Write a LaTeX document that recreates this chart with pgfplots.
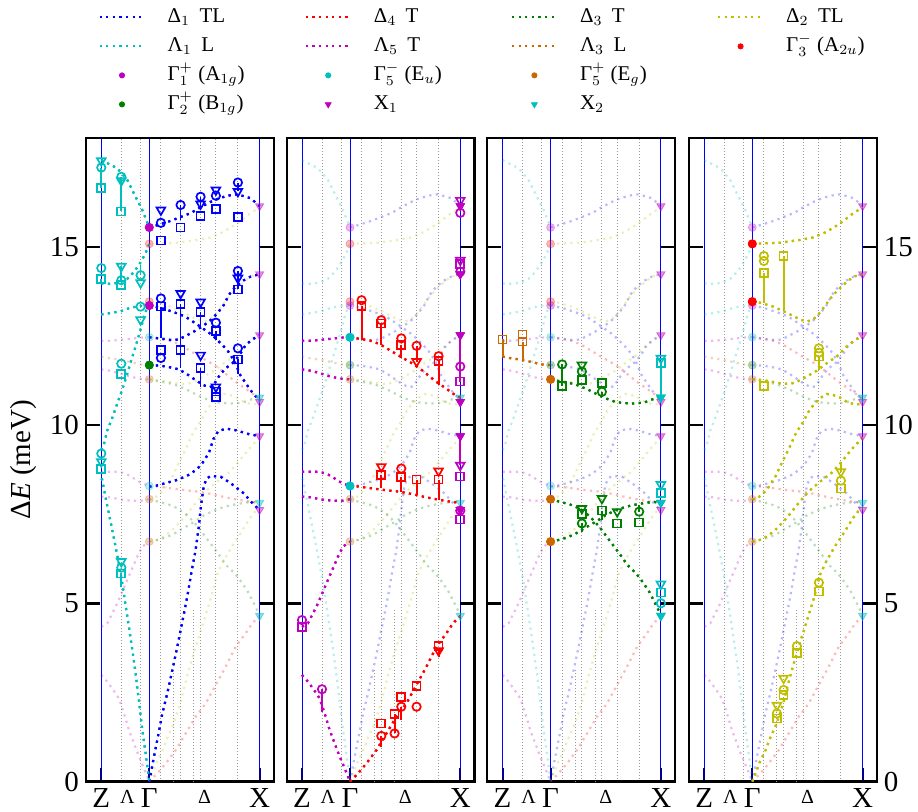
\documentclass[border=0pt]{standalone}
\usepackage{fontspec}
\setmainfont{Liberation Serif}
\usepackage{pgfplots}
\usepackage{pgfplotstable}
\pgfplotsset{compat=1.18}

\definecolor{cB}{rgb}{0,0,1}
\definecolor{cBt}{rgb}{0,0,0.55}
\definecolor{cC}{rgb}{0,0.75,0.75}
\definecolor{cR}{rgb}{1,0,0}
\definecolor{cM}{rgb}{0.75,0,0.75}
\definecolor{cG}{rgb}{0,0.5,0}
\definecolor{cO}{rgb}{0.8,0.4,0}
\definecolor{cY}{rgb}{0.75,0.75,0}

\newcommand\bigf{\fontsize{14.5}{17}\selectfont}
\newcommand\smallf{\fontsize{10}{11}\selectfont}
\newcommand\legf{\fontsize{10.5}{12.5}\selectfont}
\newcommand\lent[1]{\makebox[68.5pt][l]{#1}}

% ---------- Delta_1 (blue) ----------
\pgfplotstableread[row sep=\\]{x y\\ 48 0\\ 52 0.6\\ 56 1.17\\ 61 1.9\\ 66 2.48\\ 71 3.12\\ 76 3.78\\ 81 4.48\\ 86 5.19\\ 90 5.85\\ 94.3 6.49\\ 97.5 7.15\\ 100 7.8\\ 102.5 8.3\\ 105.5 8.5\\ 109.3 8.57\\ 119.3 8.55\\ 129.3 8.37\\ 142.6 8.08\\ 152.6 7.76\\ 158.3 7.62\\}\tBa
\pgfplotstableread[row sep=\\]{x y\\ 48 8.27\\ 55 8.3\\ 63 8.36\\ 76 8.46\\ 89 8.62\\ 97 8.8\\ 103 9.0\\ 108 9.25\\ 112 9.6\\ 117 9.83\\ 125 9.9\\ 135 9.85\\ 148 9.74\\ 158.3 9.69\\}\tBb
\pgfplotstableread[row sep=\\]{x y\\ 48 11.68\\ 60 11.66\\ 72 11.6\\ 77.6 11.56\\ 86 11.42\\ 94.3 11.26\\ 102 11.12\\ 108 11.06\\ 112 11.1\\ 116 11.3\\ 120 11.45\\ 124.3 11.59\\ 131 11.73\\ 138 11.95\\ 144.3 12.24\\ 151 12.4\\ 158.3 12.52\\}\tBc
\pgfplotstableread[row sep=\\]{x y\\ 48 12.46\\ 57.6 12.43\\ 71 12.38\\ 77.6 12.40\\ 86 12.52\\ 92.6 12.62\\ 101 12.76\\ 109.3 12.94\\ 116 13.13\\ 122.6 13.37\\ 127.6 13.65\\ 134.3 13.88\\ 142 14.05\\ 149.3 14.16\\ 158.3 14.23\\}\tBd
\pgfplotstableread[row sep=\\]{x y\\ 48 13.35\\ 60 13.28\\ 72 13.17\\ 84 13.04\\ 99 12.76\\ 111 12.52\\ 119 12.3\\ 126 12.1\\ 133 11.8\\ 139 11.4\\ 145 11.15\\ 150 10.95\\ 158.3 10.68\\}\tBe
\pgfplotstableread[row sep=\\]{x y\\ 48 15.54\\ 56.7 15.61\\ 70 15.73\\ 90 15.95\\ 100 16.12\\ 113 16.31\\ 126 16.43\\ 136 16.47\\ 149.3 16.36\\ 158.3 16.14\\}\tBf
% ---------- Delta_2 (olive) ----------
\pgfplotstableread[row sep=\\]{x y\\ 48 15.08\\ 55.7 15.09\\ 75.7 15.11\\ 95.7 15.19\\ 109 15.26\\ 122.4 15.42\\ 135.7 15.65\\ 149 15.94\\ 158.3 16.1\\}\tYa
\pgfplotstableread[row sep=\\]{x y\\ 48 13.46\\ 55.7 13.43\\ 69 13.32\\ 82.4 13.15\\ 95.7 12.96\\ 102.4 12.9\\ 109 12.96\\ 115.7 13.15\\ 122.4 13.41\\ 129 13.65\\ 139 13.93\\ 149 14.16\\ 158.3 14.23\\}\tYb
\pgfplotstableread[row sep=\\]{x y\\ 48 11.28\\ 52.4 11.28\\ 62.4 11.24\\ 75.7 11.17\\ 85.7 11.15\\ 92.4 11.21\\ 102.4 11.36\\ 112.4 11.52\\ 122.4 11.73\\ 132.4 11.92\\ 142.4 12.2\\ 150.7 12.38\\ 158.3 12.5\\}\tYc
\pgfplotstableread[row sep=\\]{x y\\ 48 7.92\\ 52.4 7.94\\ 58 8.05\\ 63.4 8.22\\ 71.4 8.57\\ 78 8.97\\ 84.7 9.34\\ 90.7 9.72\\ 95 9.92\\ 99 10.09\\ 102.4 10.28\\ 105.7 10.44\\ 110.7 10.61\\ 115.7 10.75\\ 122.4 10.87\\ 129 10.84\\ 137.4 10.75\\ 142.4 10.65\\ 150 10.58\\ 158.3 10.58\\}\tYd
\pgfplotstableread[row sep=\\]{x y\\ 48 6.73\\ 57.4 6.79\\ 64 6.9\\ 70.7 7.05\\ 77.4 7.24\\ 83.4 7.43\\ 94 7.8\\ 104 8.13\\ 115.7 8.41\\ 127.4 8.66\\ 137.4 8.97\\ 147.4 9.32\\ 158.3 9.65\\}\tYe
\pgfplotstableread[row sep=\\]{x y\\ 48 0\\ 50.7 0.19\\ 55.7 0.56\\ 60.7 0.84\\ 65.7 1.21\\ 72.4 1.63\\ 79 2.2\\ 85.7 2.94\\ 92.4 3.6\\ 100.7 4.34\\ 109 5.09\\ 115.7 5.8\\ 122.4 6.2\\ 130.7 6.6\\ 139 6.95\\ 149 7.4\\ 154 7.58\\ 158.3 7.65\\}\tYf
% ---------- Delta_3 (green) ----------
\pgfplotstableread[row sep=\\]{x y\\ 48 11.28\\ 58 11.22\\ 71.7 11.15\\ 85 11.0\\ 100 10.78\\ 113.4 10.64\\ 128.4 10.6\\ 141.7 10.63\\ 150 10.72\\ 158.3 10.77\\}\tGa
\pgfplotstableread[row sep=\\]{x y\\ 48 7.92\\ 56.7 7.85\\ 66.7 7.78\\ 76.7 7.66\\ 86.7 7.45\\ 96.7 7.15\\ 106.7 6.77\\ 116.7 6.4\\ 125 6.07\\ 133.4 5.84\\ 140 5.6\\ 146.7 5.32\\ 153.4 4.95\\ 158.3 4.67\\}\tGb
\pgfplotstableread[row sep=\\]{x y\\ 48 6.73\\ 56.7 6.78\\ 65 6.85\\ 73.4 6.96\\ 83.4 7.13\\ 93.4 7.29\\ 103.4 7.48\\ 113.4 7.61\\ 123.4 7.71\\ 133.4 7.77\\ 143.4 7.82\\ 151.7 7.84\\ 158.3 7.82\\}\tGc
% ---------- Delta_4 (red) ----------
\pgfplotstableread[row sep=\\]{x y\\ 48 12.46\\ 54.4 12.43\\ 67.7 12.37\\ 77.7 12.27\\ 87.7 12.1\\ 97.7 11.93\\ 107.7 11.77\\ 117.7 11.59\\ 126 11.4\\ 134.3 11.21\\ 144.3 11.02\\ 151 10.88\\ 158.3 10.77\\}\tRa
\pgfplotstableread[row sep=\\]{x y\\ 48 8.29\\ 57.7 8.27\\ 71 8.22\\ 84.4 8.17\\ 97.7 8.13\\ 111 8.06\\ 124.4 7.97\\ 137.7 7.9\\ 151 7.84\\ 158.3 7.82\\}\tRb
\pgfplotstableread[row sep=\\]{x y\\ 48 0\\ 56 0.23\\ 64.4 0.51\\ 74.4 0.88\\ 84.4 1.35\\ 94.4 1.82\\ 104.4 2.19\\ 114.4 2.71\\ 124.4 3.22\\ 134.4 3.78\\ 144.4 4.16\\ 151 4.44\\ 158.3 4.65\\}\tRc
% ---------- Lambda_1 (cyan) ----------
\pgfplotstableread[row sep=\\]{x y\\ 0 17.43\\ 7.6 17.32\\ 16 17.2\\ 26 16.87\\ 34.3 16.4\\ 41 16.03\\ 48 15.54\\}\tCa
\pgfplotstableread[row sep=\\]{x y\\ 0 13.97\\ 9 13.96\\ 18 13.99\\ 26 14.1\\ 33 14.3\\ 39 14.55\\ 44 14.8\\ 48 15.08\\}\tCb
\pgfplotstableread[row sep=\\]{x y\\ 0 13.1\\ 9.3 13.14\\ 19.3 13.19\\ 29.3 13.29\\ 39.3 13.34\\ 48 13.35\\}\tCc
\pgfplotstableread[row sep=\\]{x y\\ 0 9.3\\ 3 9.5\\ 6 9.85\\ 11 10.2\\ 16 10.6\\ 21 11.0\\ 26 11.44\\ 30 11.82\\ 34.3 12.2\\ 38.5 12.6\\ 42.6 13.03\\ 48 13.46\\}\tCd
\pgfplotstableread[row sep=\\]{x y\\ 0 8.5\\ 1 8.46\\ 4 8.0\\ 7.6 7.52\\ 11 7.05\\ 14.3 6.59\\ 17.7 6.08\\ 21 5.56\\ 24.3 4.95\\ 27.6 4.35\\ 31 3.7\\ 34.3 3.03\\ 37.7 2.25\\ 41 1.45\\ 44.3 0.8\\ 48 0\\}\tCe
% ---------- Lambda_5 (magenta) ----------
\pgfplotstableread[row sep=\\]{x y\\ 0 12.36\\ 9.4 12.36\\ 19.4 12.39\\ 29.4 12.42\\ 39.4 12.45\\ 48 12.46\\}\tMa
\pgfplotstableread[row sep=\\]{x y\\ 0 11.56\\ 9.4 11.52\\ 19.4 11.44\\ 29.4 11.35\\ 39.4 11.3\\ 48 11.28\\}\tMb
\pgfplotstableread[row sep=\\]{x y\\ 0 8.69\\ 7.7 8.69\\ 16 8.69\\ 24.4 8.64\\ 32.7 8.5\\ 39.4 8.38\\ 48 8.29\\}\tMc
\pgfplotstableread[row sep=\\]{x y\\ 0 7.99\\ 9.4 7.97\\ 19.4 7.91\\ 29.4 7.88\\ 39.4 7.87\\ 48 7.92\\}\tMd
\pgfplotstableread[row sep=\\]{x y\\ 0 4.34\\ 6 4.44\\ 11 4.72\\ 16 5.0\\ 21 5.33\\ 26 5.66\\ 31 5.98\\ 36 6.31\\ 41 6.59\\ 48 6.73\\}\tMe
\pgfplotstableread[row sep=\\]{x y\\ 0 2.99\\ 6 2.8\\ 11 2.61\\ 17.7 2.33\\ 22.7 1.91\\ 27.7 1.44\\ 32.7 1.07\\ 37.7 0.7\\ 42.7 0.37\\ 48 0\\}\tMf
% ---------- Lambda_3 (orange) ----------
\pgfplotstableread[row sep=\\]{x y\\ 0 11.92\\ 8.4 11.87\\ 16.7 11.84\\ 25 11.79\\ 31.7 11.75\\ 38.4 11.7\\ 48 11.68\\}\tOa

\pgfplotsset{
  br/.style={dash pattern=on 1.1pt off 2.2pt, line width=1.1pt, mark=none, forget plot},
  fa/.style={opacity=0.28},
  sD1/.style={br,cB,fa}, sD2/.style={br,cY,fa}, sD3/.style={br,cG,fa}, sD4/.style={br,cR,fa},
  sL1/.style={br,cC,fa}, sL3/.style={br,cO,fa}, sL5/.style={br,cM,fa},
  gm/.style={only marks, mark=*, mark size=2pt, forget plot},
  gA1/.style={gm,cM,fa}, gB1/.style={gm,cG,fa}, gEu/.style={gm,cC,fa}, gEg/.style={gm,cO,fa}, gA2u/.style={gm,cR,fa},
  xm/.style={only marks, mark=triangle*, mark size=2.4pt, mark options={rotate=180}, forget plot},
  xOne/.style={xm,cM,opacity=0.45}, xTwo/.style={xm,cC,opacity=0.45},
  dsq/.style={only marks, mark=square, mark size=2pt, mark options={solid, fill=white, line width=0.85pt}, forget plot},
  dci/.style={only marks, mark=o, mark size=2.1pt, mark options={solid, fill=white, line width=0.85pt}, forget plot},
  dtr/.style={only marks, mark=triangle, mark size=2.5pt, mark options={solid, fill=white, line width=0.85pt, rotate=180}, forget plot},
  base/.style={
    width=93.85pt, height=321.65pt, scale only axis,
    xmin=-15.3, xmax=172.4, ymin=0, ymax=18.04,
    xtick={0,48,158.3}, xticklabels={Z,Γ,X},
    extra x ticks={26,103.3}, extra x tick labels={Λ,Δ},
    extra x tick style={grid=none, major tick length=0pt, tick label style={font=\smallf, yshift=-1pt}},
    minor xtick={20,39.3,59.6,79.3,99.3,114.6,136.6},
    minor tick length=0pt,
    xmajorgrids, xminorgrids,
    major x grid style={cB, line width=0.5pt, solid},
    minor x grid style={gray!80, dash pattern=on 0.5pt off 1pt, line width=0.5pt},
    ytick={0,5,10,15},
    major tick length=7pt,
    xtick pos=left,
    xtick style={cBt, line width=1pt},
    ytick style={black, line width=1.2pt},
    axis line style={line width=1.15pt},
    tick label style={font=\bigf},
    label style={font=\bigf},
    /pgf/number format/assume math mode=true,
  },
}

\newcommand\seg[4]{\addplot[#1,line width=0.9pt,solid,forget plot] coordinates {(#2,#3) (#2,#4)};}
\newcommand\shortgrid{%
  \addplot[gray!80, dash pattern=on 0.5pt off 1pt, line width=0.5pt, forget plot] coordinates {(72.6,0) (72.6,3.18)};
  \addplot[gray!80, dash pattern=on 0.5pt off 1pt, line width=0.5pt, forget plot] coordinates {(92.6,0) (92.6,4.86)};}
\newcommand\gDone{\addplot[sD1] table {\tBa};\addplot[sD1] table {\tBb};\addplot[sD1] table {\tBc};\addplot[sD1] table {\tBd};\addplot[sD1] table {\tBe};\addplot[sD1] table {\tBf};}
\newcommand\gDtwo{\addplot[sD2] table {\tYa};\addplot[sD2] table {\tYb};\addplot[sD2] table {\tYc};\addplot[sD2] table {\tYd};\addplot[sD2] table {\tYe};\addplot[sD2] table {\tYf};}
\newcommand\gDthree{\addplot[sD3] table {\tGa};\addplot[sD3] table {\tGb};\addplot[sD3] table {\tGc};}
\newcommand\gDfour{\addplot[sD4] table {\tRa};\addplot[sD4] table {\tRb};\addplot[sD4] table {\tRc};}
\newcommand\gLone{\addplot[sL1] table {\tCa};\addplot[sL1] table {\tCb};\addplot[sL1] table {\tCc};\addplot[sL1] table {\tCd};\addplot[sL1] table {\tCe};}
\newcommand\gLfive{\addplot[sL5] table {\tMa};\addplot[sL5] table {\tMb};\addplot[sL5] table {\tMc};\addplot[sL5] table {\tMd};\addplot[sL5] table {\tMe};\addplot[sL5] table {\tMf};}
\newcommand\gLthree{\addplot[sL3] table {\tOa};}
\newcommand\mA{\addplot[gA1] coordinates {(48,15.54) (48,13.35)};}
\newcommand\mB{\addplot[gB1] coordinates {(48,11.68)};}
\newcommand\mEu{\addplot[gEu] coordinates {(48,12.46) (48,8.29)};}
\newcommand\mEg{\addplot[gEg] coordinates {(48,11.28) (48,7.92) (48,6.73)};}
\newcommand\mAu{\addplot[gA2u] coordinates {(48,15.08) (48,13.46)};}
\newcommand\mXone{\addplot[xOne] coordinates {(158.3,16.14) (158.3,14.23) (158.3,12.52) (158.3,10.65) (158.3,9.69) (158.3,7.62)};}
\newcommand\mXtwo{\addplot[xTwo] coordinates {(158.3,10.77) (158.3,7.82) (158.3,4.65)};}
\newcommand\allbr{\shortgrid\gDtwo\gDthree\gDfour\gDone\gLfive\gLthree\gLone\mEg\mEu\mAu\mA\mB\mXone\mXtwo}

\begin{document}
\begin{tikzpicture}
\useasboundingbox (-43pt,-14.7pt) rectangle (416pt,390.8pt);
% ================= Panel 1 =================
\begin{axis}[base,
  ylabel={Δ\textit{E} (meV)},
  sD1/.append style={opacity=1}, sL1/.append style={opacity=1},
  gA1/.append style={opacity=1}, gB1/.append style={opacity=1},
  legend columns=4, legend cell align=left,
  legend style={at={(axis description cs:0.064,1.2057)}, anchor=north west, draw=none, fill=none,
    inner sep=0pt, font=\legf, row sep=3.5pt, nodes={inner sep=0pt, text height=8pt, text depth=3pt},
    /tikz/every odd column/.append style={column sep=11pt}},
  legend image code/.code={\draw[mark repeat=2,mark phase=2,#1] plot coordinates {(0pt,0pt) (11.25pt,0pt) (22.5pt,0pt)};},
]
\addlegendimage{cB,dash pattern=on 1.1pt off 2.2pt,line width=1.1pt}\addlegendentry{\lent{Δ$_1$\hspace{0.45em}TL}}
\addlegendimage{cR,dash pattern=on 1.1pt off 2.2pt,line width=1.1pt}\addlegendentry{\lent{Δ$_4$\hspace{0.45em}T}}
\addlegendimage{cG,dash pattern=on 1.1pt off 2.2pt,line width=1.1pt}\addlegendentry{\lent{Δ$_3$\hspace{0.45em}T}}
\addlegendimage{cY,dash pattern=on 1.1pt off 2.2pt,line width=1.1pt}\addlegendentry{\lent{Δ$_2$\hspace{0.45em}TL}}
\addlegendimage{cC,dash pattern=on 1.1pt off 2.2pt,line width=1.1pt}\addlegendentry{\lent{Λ$_1$\hspace{0.45em}L}}
\addlegendimage{cM,dash pattern=on 1.1pt off 2.2pt,line width=1.1pt}\addlegendentry{\lent{Λ$_5$\hspace{0.45em}T}}
\addlegendimage{cO,dash pattern=on 1.1pt off 2.2pt,line width=1.1pt}\addlegendentry{\lent{Λ$_3$\hspace{0.45em}L}}
\addlegendimage{only marks,mark=*,cR,mark size=1.3pt}\addlegendentry{\lent{Γ$^-_3$ (A$_{2u}$)}}
\addlegendimage{only marks,mark=*,cM,mark size=1.3pt}\addlegendentry{\lent{Γ$^+_1$ (A$_{1g}$)}}
\addlegendimage{only marks,mark=*,cC,mark size=1.3pt}\addlegendentry{\lent{Γ$^-_5$ (E$_u$)}}
\addlegendimage{only marks,mark=*,cO,mark size=1.3pt}\addlegendentry{\lent{Γ$^+_5$ (E$_g$)}}
\addlegendimage{empty legend}\addlegendentry{}
\addlegendimage{only marks,mark=*,cG,mark size=1.3pt}\addlegendentry{\lent{Γ$^+_2$ (B$_{1g}$)}}
\addlegendimage{only marks,mark=triangle*,mark options={rotate=180},cM,mark size=1.7pt}\addlegendentry{\lent{X$_1$}}
\addlegendimage{only marks,mark=triangle*,mark options={rotate=180},cC,mark size=1.7pt}\addlegendentry{\lent{X$_2$}}
\addlegendimage{empty legend}\addlegendentry{}
\allbr
\gDone\gLone\mA\mB
% blue data
\seg{cB}{59.6}{13.32}{12.43}
\seg{cB}{79.3}{16.17}{15.75}
\seg{cB}{79.3}{13.4}{11.6}
\seg{cB}{99.3}{16.4}{16.07}
\seg{cB}{99.3}{13.17}{12.75}
\seg{cB}{99.3}{11.59}{11.07}
\seg{cB}{114.6}{12.64}{12.38}
\seg{cB}{136.6}{16.8}{16.55}
\seg{cB}{136.6}{14.32}{13.8}
\seg{cB}{136.6}{11.84}{11.44}
\addplot[dsq,cB] coordinates {(59.6,15.17) (59.6,13.32) (59.6,12.1) (79.3,15.54) (79.3,13.4) (79.3,12.1) (99.3,15.86) (99.3,13.17) (99.3,11.59) (114.6,16.06) (114.6,12.64) (114.6,10.94) (114.6,10.78) (136.6,15.84) (136.6,13.8) (136.6,11.84)};
\addplot[dci,cB] coordinates {(59.6,15.67) (59.6,13.55) (59.6,11.88) (79.3,16.17) (99.3,16.4) (114.6,16.43) (114.6,12.87) (136.6,16.8) (136.6,14.32) (136.6,12.15)};
\addplot[dtr,cB] coordinates {(59.6,16.03) (79.3,13.69) (99.3,16.2) (99.3,13.45) (99.3,11.96) (114.6,16.59) (114.6,11.07) (136.6,16.55) (136.6,14.12)};
% cyan data
\seg{cC}{0}{17.22}{16.65}
\seg{cC}{20}{16.96}{15.99}
\seg{cC}{20}{14.45}{14.06}
\seg{cC}{39.3}{14.5}{14.2}
\seg{cC}{20}{5.84}{5.46}
\seg{cC}{0}{14.1}{13.97}
\addplot[dsq,cC] coordinates {(0,16.65) (0,14.1) (0,8.76) (20,15.99) (20,13.92) (20,11.44) (20,5.84)};
\addplot[dci,cC] coordinates {(0,17.22) (0,14.4) (0,9.2) (20,16.96) (20,14.06) (20,11.72) (20,6.0) (39.3,14.2) (39.3,13.32)};
\addplot[dtr,cC] coordinates {(0,17.41) (0,8.97) (20,16.85) (20,14.45) (20,6.17) (39.3,13.99) (39.3,12.95)};
\end{axis}
% ================= Panel 2 =================
\begin{axis}[base, at={(100.35pt,0pt)}, yticklabels={},
  sD4/.append style={opacity=1}, sL5/.append style={opacity=1},
  gEu/.append style={opacity=1}, xOne/.append style={opacity=1}]
\allbr
\gDfour\gLfive\mEu\mXone
\seg{cR}{59.6}{13.33}{12.39}
\seg{cR}{79.3}{12.85}{12.24}
\seg{cR}{99.3}{12.24}{11.88}
\seg{cR}{114.6}{12.22}{11.78}
\seg{cR}{136.6}{11.79}{11.12}
\seg{cR}{79.3}{8.6}{8.22}
\seg{cR}{99.3}{8.55}{8.13}
\seg{cR}{114.6}{8.47}{8.03}
\seg{cR}{136.6}{8.47}{7.91}
\seg{cR}{79.3}{1.28}{0.98}
\seg{cR}{92.6}{1.9}{1.35}
\seg{cR}{99.3}{2.1}{1.72}
\seg{cR}{136.6}{3.67}{3.5}
\addplot[dsq,cR] coordinates {(59.6,13.33) (79.3,12.85) (99.3,12.24) (136.6,11.79) (79.3,8.6) (99.3,8.55) (114.6,8.47) (136.6,8.47) (79.3,1.63) (92.6,1.9) (99.3,2.37) (114.6,2.68) (136.6,3.8)};
\addplot[dci,cR] coordinates {(59.6,13.5) (79.3,12.94) (99.3,12.43) (114.6,12.22) (136.6,11.93) (99.3,8.78) (79.3,1.28) (92.6,1.35) (99.3,2.1) (114.6,2.1)};
\addplot[dtr,cR] coordinates {(114.6,11.78) (79.3,8.83) (136.6,8.71) (136.6,3.67)};
\seg{cM}{20}{2.59}{1.96}
\seg{cM}{158.3}{12.52}{11.22}
\seg{cM}{158.3}{9.69}{8.87}
\addplot[dsq,cM] coordinates {(0,4.34) (158.3,14.52) (158.3,11.22) (158.3,8.56) (158.3,7.35)};
\addplot[dci,cM] coordinates {(0,4.53) (20,2.59) (158.3,15.95) (158.3,14.3) (158.3,11.64) (158.3,7.6)};
\addplot[dtr,cM] coordinates {(158.3,16.3) (158.3,14.62) (158.3,8.87)};
\end{axis}
% ================= Panel 3 =================
\begin{axis}[base, at={(200.65pt,0pt)}, yticklabels={},
  sD3/.append style={opacity=1}, sL3/.append style={opacity=1},
  gEg/.append style={opacity=1}, xTwo/.append style={opacity=1}]
\allbr
\gDthree\gLthree\mEg\mXtwo
\seg{cO}{0}{12.4}{11.92}
\seg{cO}{20}{12.34}{11.84}
\addplot[dsq,cO] coordinates {(0,12.4) (20,12.54) (20,12.34)};
\seg{cG}{59.6}{11.7}{11.09}
\seg{cG}{99.3}{10.93}{10.79}
\seg{cG}{79.3}{7.24}{7.01}
\seg{cG}{99.3}{7.6}{7.34}
\seg{cG}{136.6}{7.75}{7.57}
\addplot[dsq,cG] coordinates {(59.6,11.09) (79.3,11.26) (99.3,11.17) (79.3,7.5) (99.3,7.6) (114.6,7.24) (136.6,7.27)};
\addplot[dci,cG] coordinates {(59.6,11.7) (79.3,11.5) (99.3,10.93) (79.3,7.24) (136.6,7.57)};
\addplot[dtr,cG] coordinates {(79.3,11.68) (79.3,7.66) (99.3,7.94) (114.6,7.57)};
\seg{cC}{158.3}{11.73}{10.77}
\addplot[dsq,cC] coordinates {(158.3,11.73) (158.3,8.1) (158.3,5.3)};
\addplot[dci,cC] coordinates {(158.3,5.0)};
\addplot[dtr,cC] coordinates {(158.3,11.87) (158.3,8.33) (158.3,5.54)};
\end{axis}
% ================= Panel 4 =================
\begin{axis}[base, at={(301.5pt,0pt)}, yticklabel pos=right,
  sD2/.append style={opacity=1}, gA2u/.append style={opacity=1}]
\allbr
\gDtwo\mAu
\seg{cY}{59.6}{14.27}{13.42}
\seg{cY}{79.3}{14.74}{13.22}
\seg{cY}{114.6}{11.92}{11.54}
\seg{cY}{136.6}{8.97}{8.69}
\addplot[dsq,cY] coordinates {(59.6,14.27) (79.3,14.74) (59.6,11.1) (114.6,11.92) (136.6,8.22) (114.6,5.33) (92.6,3.6) (79.3,2.43) (72.6,1.77)};
\addplot[dci,cY] coordinates {(59.6,14.74) (59.6,14.6) (114.6,12.15) (114.6,12.03) (136.6,8.44) (114.6,5.58) (92.6,3.8) (79.3,2.57) (72.6,1.91)};
\addplot[dtr,cY] coordinates {(136.6,8.69) (79.3,2.9) (72.6,2.14)};
\end{axis}
\end{tikzpicture}
\end{document}
